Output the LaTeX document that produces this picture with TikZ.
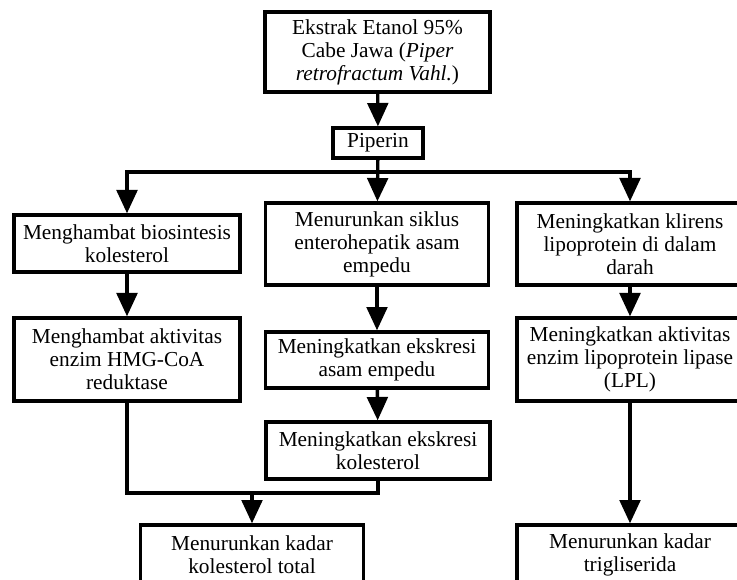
\documentclass[tikz,border=0pt]{standalone}
\usepackage{fontspec}
\setmainfont{Liberation Serif}
\usetikzlibrary{arrows.meta,calc}

\begin{document}
\begin{tikzpicture}[
            x=0.75pt, y=-0.75pt,
            box/.style={rectangle, draw=black, line width=2.5pt, align=center, inner sep=1pt, minimum width=169.5pt, font=\fontsize{16}{17.3}\selectfont},
            line/.style={line width=2.5pt, black},
            arrow/.style={line, -{Triangle[width=15.5pt,length=17.5pt]}}
        ]
        \useasboundingbox (0,0) rectangle (737,580);
        \clip (0,0) rectangle (737,580);
        
        \node[box, minimum width=168.75pt, minimum height=60pt] (ekstrak) at (377.5,52) {Ekstrak Etanol 95\%\\Cabe Jawa (\textit{Piper}\\\textit{retrofractum Vahl.})};
        \node[box, minimum width=67.5pt, minimum height=22.5pt] (piperin) at (378,143) {Piperin};
        
        \node[box, minimum height=42.75pt] (hambat1) at (127,243.5) {Menghambat biosintesis\\kolesterol};
        \node[box, minimum width=167.25pt, minimum height=61.5pt] (siklus) at (377,244) {Menurunkan siklus\\enterohepatik asam\\empedu};
        \node[box, minimum height=61.5pt] (klirens) at (630,244) {Meningkatkan klirens\\lipoprotein di dalam\\darah};
        
        \node[box, minimum height=62.25pt] (hambat2) at (127,359.5) {Menghambat aktivitas\\enzim HMG-CoA\\reduktase};
        \node[box, minimum width=167.25pt, minimum height=42pt] (ekskresi1) at (377,360) {Meningkatkan ekskresi\\asam empedu};
        \node[box, minimum height=62.25pt] (lpl) at (630,359.5) {Meningkatkan aktivitas\\enzim lipoprotein lipase\\(LPL)};
        \node[box, minimum width=168pt, minimum height=42.75pt] (ekskresi2) at (378,450.5) {Meningkatkan ekskresi\\kolesterol};
        
        \node[box, minimum width=167.25pt, minimum height=45pt] (total) at (252,555) {Menurunkan kadar\\kolesterol total};
        \node[box, minimum height=45pt] (tg) at (630,555) {Menurunkan kadar\\trigliserida};
        
        \coordinate (bus) at (378,172);
        \coordinate (join) at (252,493);
        
        \draw[arrow] (ekstrak) -- (piperin);
        \draw[arrow] (piperin) -- (siklus);
        \draw[arrow] (bus) -| (hambat1);
        \draw[arrow] (bus) -| (klirens);
        
        \draw[arrow] (hambat1) -- (hambat2);
        \draw[arrow] (siklus) -- (ekskresi1);
        \draw[arrow] (ekskresi1) -- (ekskresi2);
        \draw[arrow] (klirens) -- (lpl);
        
        \draw[line] (hambat2.south) |- (join) -| (ekskresi2.south);
        \draw[arrow] (join) -- (total);
        \draw[arrow] (lpl) -- (tg);
        
        \end{tikzpicture}
\end{document}
